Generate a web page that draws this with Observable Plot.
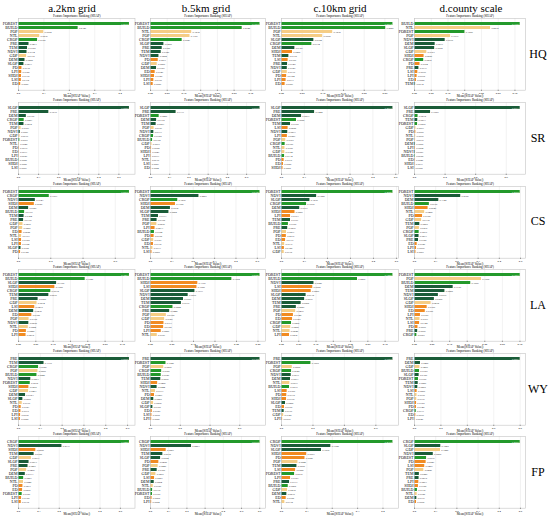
<!DOCTYPE html>
<html><head><meta charset="utf-8">
<script src="https://cdn.jsdelivr.net/npm/d3@7"></script>
<script src="https://cdn.jsdelivr.net/npm/@observablehq/plot@0.6"></script>
<style>
html,body{margin:0;padding:0;background:#fff;}
#root{position:relative;width:550px;height:519px;overflow:hidden;font-family:"Liberation Serif","Times New Roman",serif;color:#000;}
.hdr{position:absolute;font-size:11px;white-space:nowrap;transform:translateX(-50%);line-height:1;}
.rowlab{position:absolute;font-size:12px;white-space:nowrap;transform:translate(-50%,-50%);line-height:1;}
.panel{position:absolute;}
</style></head><body><div id="root"></div>
<script>
const columnTitles = ["a.2km grid","b.5km grid","c.10km grid","d.county scale"];
const rowNames = ["HQ","SR","CS","LA","WY","FP"];
const landUse = ["FOREST","BUILD","CROP"];
const natural = ["PRE","TEM","NDVI","DEM","SLOP"];
const social = ["POP","NTL","GDP"];
const landscape = ["PD","LSI","SHDI","LPI","ED"];
const chartTitle = "Feature Importance Ranking (SHAP)";
const xLabel = "Mean(|SHAP Value|)";

// HQ
const HQ_2km_f = ["FOREST","BUILD","POP","NTL","CROP","PRE","TEM","NDVI","GDP","DEM","SLOP","PD","LPI","SHDI","LSI","ED"];
const HQ_2km_v = [0.4365,0.2346,0.0992,0.0836,0.0750,0.0413,0.0355,0.0334,0.0318,0.0255,0.0213,0.0135,0.0126,0.0118,0.0112,0.0087];
const HQ_5km_f = ["FOREST","BUILD","NTL","POP","CROP","SLOP","PRE","TEM","NDVI","PD","GDP","DEM","ED","SHDI","LPI","LSI"];
const HQ_5km_v = [0.3275,0.2742,0.1232,0.1181,0.0947,0.0400,0.0350,0.0320,0.0252,0.0231,0.0200,0.0180,0.0140,0.0120,0.0100,0.0080];
const HQ_10km_f = ["FOREST","BUILD","POP","NTL","SLOP","CROP","DEM","SHDI","TEM","LSI","PRE","NDVI","GDP","PD","LPI","ED"];
const HQ_10km_v = [0.2694,0.2520,0.1238,0.0995,0.0782,0.0734,0.0323,0.0266,0.0178,0.0160,0.0146,0.0140,0.0139,0.0124,0.0111,0.0087];
const HQ_cty_f = ["BUILD","NTL","FOREST","POP","NDVI","DEM","SLOP","GDP","SHDI","CROP","PD","PRE","LSI","LPI","ED","TEM"];
const HQ_cty_v = [0.3157,0.2272,0.1506,0.1077,0.0916,0.0617,0.0602,0.0367,0.0286,0.0275,0.0164,0.0131,0.0099,0.0078,0.0058,0.0032];
// SR
const SR_2km_f = ["SLOP","PRE","DEM","CROP","TEM","POP","NDVI","GDP","FOREST","NTL","PD","ED","LPI","BUILD","SHDI","LSI"];
const SR_2km_v = [0.5525,0.1510,0.0390,0.0283,0.0272,0.0127,0.0087,0.0079,0.0067,0.0045,0.0039,0.0033,0.0029,0.0025,0.0020,0.0009];
const SR_5km_f = ["SLOP","PRE","FOREST","DEM","TEM","POP","NDVI","CROP","BUILD","GDP","PD","SHDI","LPI","NTL","LSI","ED"];
const SR_5km_v = [0.5698,0.1331,0.0450,0.0318,0.0293,0.0187,0.0173,0.0158,0.0108,0.0077,0.0055,0.0047,0.0033,0.0030,0.0023,0.0022];
const SR_10km_f = ["SLOP","PRE","DEM","FOREST","TEM","LSI","NDVI","LPI","POP","CROP","NTL","GDP","BUILD","PD","ED","SHDI"];
const SR_10km_v = [0.4876,0.1448,0.0877,0.0655,0.0395,0.0288,0.0273,0.0257,0.0187,0.0159,0.0150,0.0145,0.0134,0.0116,0.0086,0.0065];
const SR_cty_f = ["SLOP","PRE","CROP","TEM","FOREST","GDP","PD","NTL","POP","DEM","LPI","NDVI","BUILD","ED","SHDI","LSI"];
const SR_cty_v = [0.6913,0.1050,0.0232,0.0213,0.0200,0.0093,0.0087,0.0076,0.0070,0.0066,0.0064,0.0057,0.0055,0.0045,0.0031,0.0008];
// CS
const CS_2km_f = ["FOREST","CROP","NDVI","SHDI","DEM","BUILD","TEM","PRE","GDP","POP","ED","NTL","LSI","LPI","SLOP","PD"];
const CS_2km_v = [0.6876,0.1907,0.1043,0.0980,0.0627,0.0379,0.0344,0.0316,0.0276,0.0259,0.0222,0.0193,0.0188,0.0184,0.0155,0.0128];
const CS_5km_f = ["FOREST","NDVI","CROP","SHDI","DEM","SLOP","TEM","PRE","POP","LPI","BUILD","PD","GDP","ED","NTL","LSI"];
const CS_5km_v = [0.5126,0.2267,0.1276,0.1168,0.0932,0.0862,0.0373,0.0308,0.0296,0.0213,0.0184,0.0168,0.0151,0.0138,0.0113,0.0069];
const CS_10km_f = ["FOREST","NDVI","SLOP","CROP","DEM","SHDI","LPI","TEM","BUILD","PRE","POP","PD","ED","NTL","LSI","GDP"];
const CS_10km_v = [0.4846,0.1528,0.1236,0.1090,0.0793,0.0587,0.0393,0.0391,0.0300,0.0270,0.0217,0.0210,0.0177,0.0137,0.0125,0.0118];
const CS_cty_f = ["FOREST","NDVI","DEM","BUILD","SHDI","NTL","PD","GDP","TEM","POP","CROP","SLOP","PRE","ED","LPI","LSI"];
const CS_cty_v = [0.4985,0.2180,0.1146,0.0700,0.0640,0.0480,0.0380,0.0335,0.0250,0.0230,0.0219,0.0213,0.0188,0.0126,0.0096,0.0067];
// LA
const LA_2km_f = ["FOREST","BUILD","SLOP","SHDI","CROP","TEM","PRE","GDP","LSI","DEM","ED","POP","NDVI","NTL","PD","LPI"];
const LA_2km_v = [0.3203,0.1925,0.1100,0.1050,0.0932,0.0876,0.0566,0.0534,0.0470,0.0438,0.0385,0.0305,0.0298,0.0282,0.0228,0.0218];
const LA_5km_f = ["FOREST","BUILD","SHDI","LSI","SLOP","NDVI","DEM","TEM","CROP","PRE","POP","GDP","PD","ED","LPI","NTL"];
const LA_5km_v = [0.2547,0.1892,0.1100,0.1080,0.1033,0.0876,0.0767,0.0719,0.0522,0.0446,0.0368,0.0329,0.0313,0.0305,0.0250,0.0157];
const LA_10km_f = ["FOREST","BUILD","NDVI","LSI","SHDI","SLOP","DEM","TEM","PRE","POP","PD","ED","CROP","GDP","NTL","LPI"];
const LA_10km_v = [0.3226,0.2200,0.0940,0.0905,0.0860,0.0712,0.0670,0.0568,0.0429,0.0410,0.0345,0.0320,0.0290,0.0268,0.0248,0.0232];
const LA_cty_f = ["FOREST","POP","BUILD","DEM","TEM","NDVI","SLOP","GDP","SHDI","ED","LPI","NTL","LSI","PD","PRE","CROP"];
const LA_cty_v = [0.3007,0.1905,0.1600,0.1100,0.0865,0.0679,0.0565,0.0472,0.0360,0.0306,0.0169,0.0157,0.0145,0.0099,0.0090,0.0067];
// WY
const WY_2km_f = ["PRE","TEM","CROP","POP","BUILD","NDVI","FOREST","SHDI","GDP","DEM","SLOP","NTL","PD","ED","LPI","LSI"];
const WY_2km_v = [0.5086,0.1170,0.0920,0.0890,0.0845,0.0563,0.0538,0.0476,0.0461,0.0323,0.0200,0.0170,0.0123,0.0110,0.0095,0.0088];
const WY_5km_f = ["PRE","FOREST","POP","CROP","BUILD","TEM","SHDI","NDVI","NTL","PD","DEM","GDP","SLOP","ED","LSI","LPI"];
const WY_5km_v = [0.7362,0.1040,0.0890,0.0750,0.0720,0.0690,0.0480,0.0444,0.0333,0.0267,0.0220,0.0206,0.0160,0.0120,0.0095,0.0080];
const WY_10km_f = ["PRE","FOREST","POP","CROP","NDVI","DEM","NTL","BUILD","LSI","PD","SHDI","SLOP","ED","TEM","GDP","LPI"];
const WY_10km_v = [0.7085,0.1870,0.0685,0.0640,0.0617,0.0573,0.0531,0.0510,0.0360,0.0335,0.0318,0.0255,0.0190,0.0170,0.0140,0.0070];
const WY_cty_f = ["PRE","DEM","GDP","BUILD","SLOP","FOREST","TEM","NDVI","LSI","NTL","POP","SHDI","PD","CROP","ED","LPI"];
const WY_cty_v = [0.8003,0.0450,0.0409,0.0380,0.0350,0.0300,0.0280,0.0250,0.0200,0.0190,0.0170,0.0155,0.0148,0.0131,0.0099,0.0045];
// FP
const FP_2km_f = ["CROP","NDVI","SHDI","TEM","GDP","SLOP","PRE","POP","DEM","BUILD","NTL","PD","ED","FOREST","LPI","LSI"];
const FP_2km_v = [0.5444,0.2131,0.0850,0.0766,0.0633,0.0517,0.0467,0.0400,0.0333,0.0253,0.0245,0.0217,0.0200,0.0180,0.0150,0.0135];
const FP_5km_f = ["CROP","NDVI","SHDI","TEM","SLOP","PD","POP","PRE","GDP","LSI","DEM","NTL","BUILD","FOREST","ED","LPI"];
const FP_5km_v = [0.6015,0.2253,0.0861,0.0678,0.0554,0.0458,0.0420,0.0366,0.0297,0.0223,0.0204,0.0150,0.0115,0.0109,0.0085,0.0064];
const FP_10km_f = ["CROP","NDVI","SLOP","SHDI","PD","POP","TEM","LSI","FOREST","LPI","PRE","BUILD","GDP","DEM","ED","NTL"];
const FP_10km_v = [0.4392,0.1945,0.1575,0.0993,0.0926,0.0648,0.0608,0.0556,0.0516,0.0357,0.0317,0.0265,0.0238,0.0210,0.0185,0.0132];
const FP_cty_f = ["CROP","SLOP","GDP","NDVI","FOREST","PD","LSI","POP","TEM","PRE","LPI","SHDI","BUILD","NTL","DEM","ED"];
const FP_cty_v = [0.4989,0.1240,0.1226,0.0886,0.0570,0.0549,0.0483,0.0440,0.0229,0.0215,0.0203,0.0185,0.0138,0.0125,0.0110,0.0095];

const grid = [
  [[HQ_2km_f,HQ_2km_v],[HQ_5km_f,HQ_5km_v],[HQ_10km_f,HQ_10km_v],[HQ_cty_f,HQ_cty_v]],
  [[SR_2km_f,SR_2km_v],[SR_5km_f,SR_5km_v],[SR_10km_f,SR_10km_v],[SR_cty_f,SR_cty_v]],
  [[CS_2km_f,CS_2km_v],[CS_5km_f,CS_5km_v],[CS_10km_f,CS_10km_v],[CS_cty_f,CS_cty_v]],
  [[LA_2km_f,LA_2km_v],[LA_5km_f,LA_5km_v],[LA_10km_f,LA_10km_v],[LA_cty_f,LA_cty_v]],
  [[WY_2km_f,WY_2km_v],[WY_5km_f,WY_5km_v],[WY_10km_f,WY_10km_v],[WY_cty_f,WY_cty_v]],
  [[FP_2km_f,FP_2km_v],[FP_5km_f,FP_5km_v],[FP_10km_f,FP_10km_v],[FP_cty_f,FP_cty_v]]
];

const FONT = '"Liberation Serif","Times New Roman",serif';
const colFrameLeft = [18, 150, 281, 413.5];
const colFrameWidth = [116.5, 115, 117, 111];
const colHeaderX = [72, 206, 340, 471];
const rowFrameTop0 = 18.2, rowPitch = 83.65, FH = 71.7;
const ML = 18, MR = 2, MT = 7, MB = 10;

function catColor(f) {
  if (landUse.includes(f)) return "#23992b";
  if (natural.includes(f)) return "#1a5c38";
  if (social.includes(f)) return "#f5cd85";
  return "#f18b22";
}

function panel(features, values, fw) {
  const data = features.map((f, i) => ({f, v: values[i]}));
  const xmax = d3.max(values) * 1.05;
  const step = d3.tickStep(0, xmax, 5);
  const ticks = d3.range(0, xmax + 1e-9, step);
  const fmt = d3.format("." + d3.precisionFixed(step) + "f");
  return Plot.plot({
    width: ML + fw + MR, height: MT + FH + MB,
    marginLeft: ML, marginRight: MR, marginTop: MT, marginBottom: MB,
    style: {fontFamily: FONT, background: "transparent", overflow: "visible"},
    x: {domain: [0, xmax], label: null},
    y: {domain: features, paddingInner: 0.2, paddingOuter: 0.5, label: null},
    marks: [
      Plot.gridX(ticks, {stroke: "#dedede", strokeOpacity: 1, strokeWidth: 0.4}),
      Plot.barX(data, {x: "v", y: "f", fill: d => catColor(d.f)}),
      Plot.frame({stroke: "#c4c4c4", strokeWidth: 0.6}),
      Plot.axisX({ticks, tickFormat: fmt, tickSize: 1.2, tickPadding: 0.5, fontSize: 2.8, strokeWidth: 0.4, label: null}),
      Plot.axisY({tickSize: 0, tickPadding: 1, fontSize: 4, label: null}),
      Plot.text(data.slice(1), {x: "v", y: "f", text: d => d.v.toFixed(4), dx: 0.8, textAnchor: "start", fontSize: 2.6, fill: "#222"}),
      Plot.text(data.slice(0, 1), {x: "v", y: "f", text: d => d.v.toFixed(4), dx: -1, textAnchor: "end", fontSize: 2.6, fill: "#fff"}),
      Plot.text([chartTitle], {frameAnchor: "top", lineAnchor: "bottom", dy: -1, fontSize: 3.2}),
      Plot.text([xLabel], {frameAnchor: "bottom", lineAnchor: "top", dy: 4.8, fontSize: 3.2})
    ]
  });
}

const root = document.getElementById("root");
columnTitles.forEach((t, c) => {
  const d = document.createElement("div");
  d.className = "hdr"; d.textContent = t;
  d.style.left = colHeaderX[c] + "px"; d.style.top = "3px";
  root.appendChild(d);
});
grid.forEach((row, r) => {
  const top = rowFrameTop0 + r * rowPitch;
  row.forEach(([f, v], c) => {
    const svg = panel(f, v, colFrameWidth[c]);
    const wrap = document.createElement("div");
    wrap.className = "panel";
    wrap.style.left = (colFrameLeft[c] - ML) + "px";
    wrap.style.top = (top - MT) + "px";
    wrap.appendChild(svg);
    root.appendChild(wrap);
  });
  const lab = document.createElement("div");
  lab.className = "rowlab"; lab.textContent = rowNames[r];
  lab.style.left = "538px"; lab.style.top = (top + FH / 2) + "px";
  root.appendChild(lab);
});
</script></body></html>
